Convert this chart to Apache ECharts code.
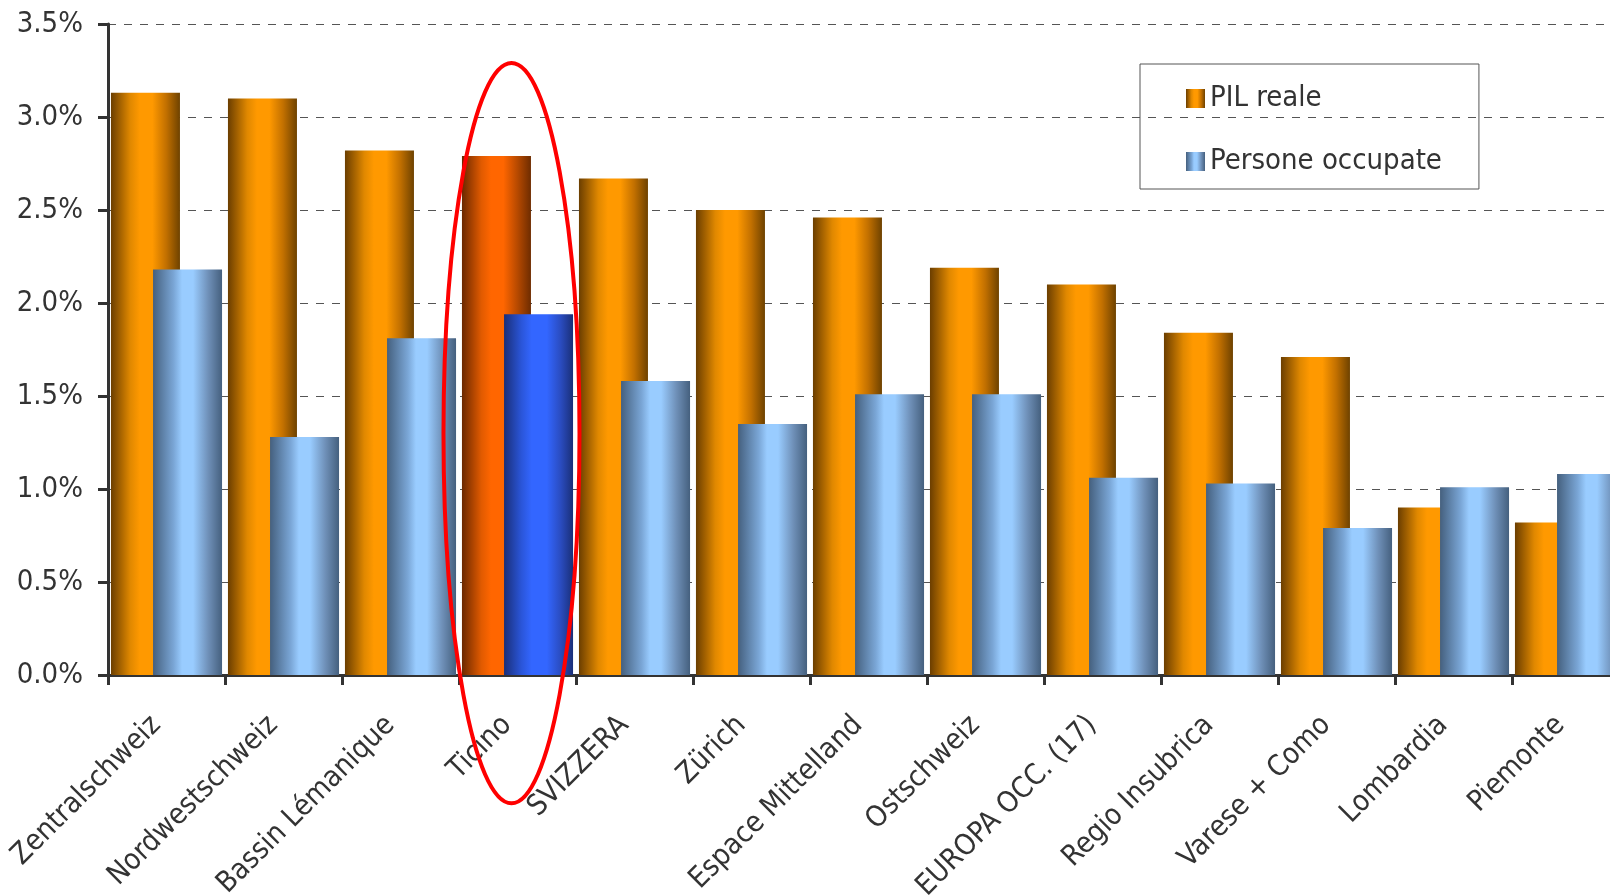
<!DOCTYPE html>
<html>
<head>
<meta charset="utf-8">
<script src="https://cdn.jsdelivr.net/npm/echarts@6/dist/echarts.min.js"></script>
<style>
html,body{margin:0;padding:0;background:#fff;}
#chart{width:1610px;height:896px;}
</style>
</head>
<body>
<div id="chart"></div>
<script>
var categories = ['Zentralschweiz','Nordwestschweiz','Bassin Lémanique','Ticino','SVIZZERA','Zürich','Espace Mittelland','Ostschweiz','EUROPA OCC. (17)','Regio Insubrica','Varese + Como','Lombardia','Piemonte'];
var pilReale = [3.13, 3.10, 2.82, 2.79, 2.67, 2.50, 2.46, 2.19, 2.10, 1.84, 1.71, 0.90, 0.82];
var personeOccupate = [2.18, 1.28, 1.81, 1.94, 1.58, 1.35, 1.51, 1.51, 1.06, 1.03, 0.79, 1.01, 1.08];
var seriesNames = ['PIL reale', 'Persone occupate'];
var highlightCategory = 'Ticino';

var FONT = '"DejaVu Sans Condensed", "DejaVu Sans"';
function grad(stops) {
  return new echarts.graphic.LinearGradient(0, 0, 1, 0, stops.map(function (s) { return { offset: s[0], color: s[1] }; }));
}
var orangeGrad = grad([[0,'#6b3e00'],[0.28,'#e08800'],[0.42,'#ff9900'],[0.6,'#ff9900'],[0.8,'#c27000'],[1,'#6e4200']]);
var blueGrad = grad([[0,'#45607e'],[0.3,'#7aa6d6'],[0.42,'#99ccff'],[0.58,'#99ccff'],[0.8,'#6f90b8'],[1,'#45607e']]);
var orangeHi = grad([[0,'#6b2800'],[0.28,'#e05a00'],[0.42,'#ff6600'],[0.6,'#ff6600'],[0.8,'#b84a00'],[1,'#6e2c00']]);
var blueHi = grad([[0,'#1a2f78'],[0.25,'#2a55d8'],[0.4,'#3366ff'],[0.62,'#3366ff'],[0.82,'#2a4cc0'],[1,'#1a2f78']]);

function buildData(vals, hiColor) {
  return vals.map(function (v, i) {
    if (categories[i] === highlightCategory) return { value: v, itemStyle: { color: hiColor } };
    return v;
  });
}

var chart = echarts.init(document.getElementById('chart'), null, { renderer: 'canvas' });
chart.setOption({
  animation: false,
  backgroundColor: '#ffffff',
  grid: { left: 108, top: 24, bottom: 221, width: 1521, containLabel: false, outerBoundsMode: 'none' },
  legend: {
    orient: 'vertical',
    left: 1140, top: 64,
    padding: [20, 37, 13, 46],
    itemGap: 34,
    itemWidth: 19, itemHeight: 19,
    borderColor: '#555', borderWidth: 1,
    icon: 'rect',
    textStyle: { fontFamily: FONT, fontSize: 29, color: '#333' },
    data: seriesNames
  },
  xAxis: {
    type: 'category',
    data: categories,
    axisLine: { lineStyle: { color: '#333', width: 3 } },
    axisTick: { show: true, length: 10, lineStyle: { color: '#333', width: 3 } },
    axisLabel: { interval: 0, rotate: 45, margin: 56, verticalAlign: 'bottom', fontFamily: FONT, fontSize: 29, color: '#333' }
  },
  yAxis: {
    type: 'value',
    min: 0, max: 3.5, interval: 0.5,
    axisLine: { show: true, lineStyle: { color: '#333', width: 3 } },
    axisTick: { show: true, length: 10, lineStyle: { color: '#333', width: 3 } },
    axisLabel: { margin: 25, fontFamily: FONT, fontSize: 29, color: '#333', formatter: function (v) { return v.toFixed(1) + '%'; } },
    splitLine: { show: true, lineStyle: { color: '#555', width: 1, type: [8, 8] } }
  },
  series: [
    { name: seriesNames[0], type: 'bar', data: buildData(pilReale, orangeHi), barWidth: 69, barGap: '-39%', itemStyle: { color: orangeGrad } },
    { name: seriesNames[1], type: 'bar', data: buildData(personeOccupate, blueHi), barWidth: 69, itemStyle: { color: blueGrad } }
  ]
});

// annotation ellipse around the highlighted category
var cx = chart.convertToPixel({ xAxisIndex: 0 }, highlightCategory) - 6;
var yTop = chart.convertToPixel({ yAxisIndex: 0 }, 3.29);
var yBot = chart.convertToPixel({ yAxisIndex: 0 }, -0.69);
chart.setOption({
  graphic: [{
    type: 'ellipse',
    z: 100,
    shape: { cx: cx, cy: (yTop + yBot) / 2, rx: 68, ry: (yBot - yTop) / 2 },
    style: { fill: 'none', stroke: '#ff0000', lineWidth: 4 }
  }]
});
</script>
</body>
</html>
